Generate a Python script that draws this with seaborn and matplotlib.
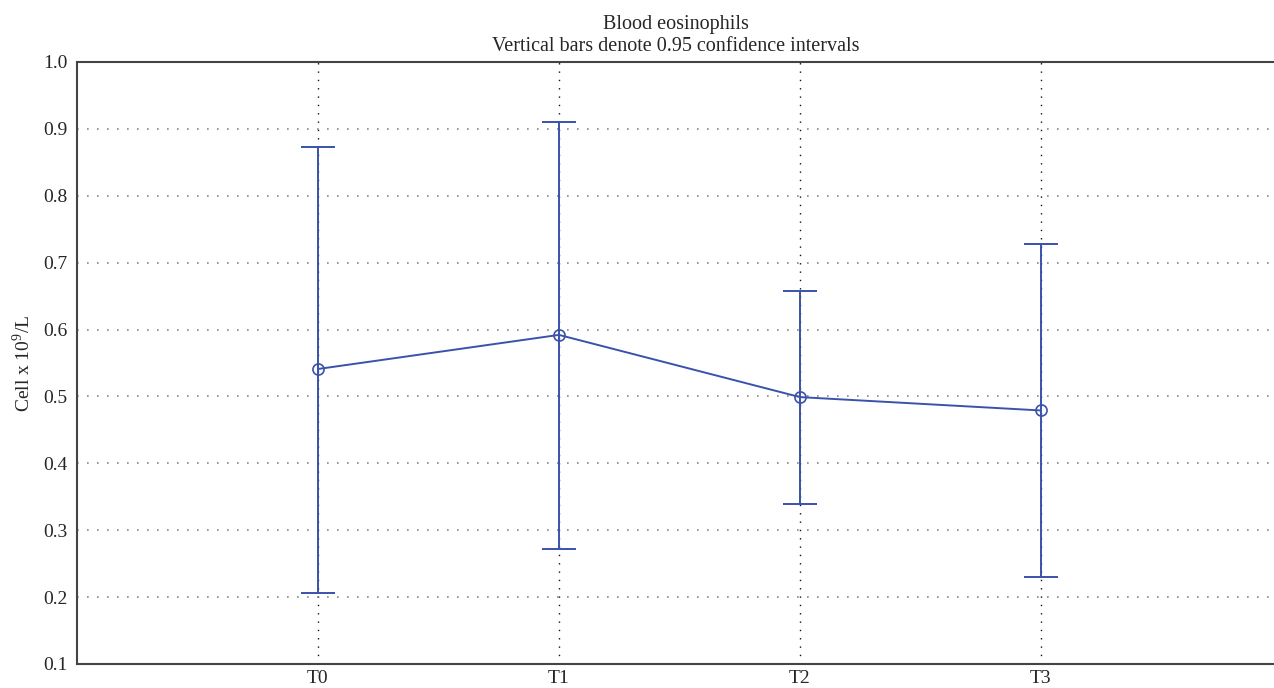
import numpy as np
import pandas as pd
import matplotlib
matplotlib.use("Agg")
import matplotlib.pyplot as plt
import seaborn as sns

# --- data ---
timepoints = ["T0", "T1", "T2", "T3"]
mean_vals = [0.541, 0.592, 0.499, 0.479]
ci_low = [0.206, 0.272, 0.339, 0.230]
ci_high = [0.873, 0.910, 0.658, 0.728]
y_ticks = [0.1, 0.2, 0.3, 0.4, 0.5, 0.6, 0.7, 0.8, 0.9, 1.0]

sns.set_style("white")
plt.rcParams['font.family'] = ['Liberation Serif', 'DejaVu Serif']
plt.rcParams['mathtext.fontset'] = 'custom'
plt.rcParams['mathtext.rm'] = 'Liberation Serif'

blue = '#3a52ac'

df = pd.DataFrame({'pos': np.arange(len(timepoints)), 'mean': mean_vals})

fig = plt.figure(figsize=(12.74, 6.88), dpi=100)
ax = fig.add_axes([0.0604, 0.0349, 0.9396, 0.875])

# confidence interval bars
yerr = [np.array(mean_vals) - np.array(ci_low), np.array(ci_high) - np.array(mean_vals)]
ax.errorbar(df['pos'], df['mean'], yerr=yerr, fmt='none', ecolor=blue,
            elinewidth=1.4, capsize=12, capthick=1.4, zorder=3)

# mean line with open circles
sns.lineplot(data=df, x='pos', y='mean', ax=ax, color=blue, linewidth=1.4,
             marker='o', markersize=8, markerfacecolor='none',
             markeredgecolor=blue, markeredgewidth=1.2, zorder=4)

ax.set_xlim(-1, 3.967)
ax.set_ylim(0.1, 1.0)
ax.set_xticks(df['pos'])
ax.set_xticklabels(timepoints)
ax.set_yticks(y_ticks)
ax.set_yticklabels([f"{v:.1f}" for v in y_ticks])

ax.set_xlabel('')
ax.set_ylabel('Cell x 10$^9$/L', fontsize=14, labelpad=6)
ax.set_title('Blood eosinophils\nVertical bars denote 0.95 confidence intervals',
             fontsize=14.5, pad=8, linespacing=1.2)

ax.tick_params(axis='both', direction='in', length=6, width=1.2, color='#333333',
               labelsize=14, pad=4)
ax.tick_params(axis='y', pad=7)

# dotted grid
ax.yaxis.grid(True, linestyle=(0, (1, 5)), color='#888888', linewidth=1.2)
ax.xaxis.grid(True, linestyle=(0, (1, 5)), color='#111111', linewidth=1.0)
ax.set_axisbelow(True)

for side in ['left', 'top', 'bottom']:
    ax.spines[side].set_color('#444444')
    ax.spines[side].set_linewidth(1.5)
ax.spines['right'].set_visible(False)

fig.savefig('out.png', dpi=100)
